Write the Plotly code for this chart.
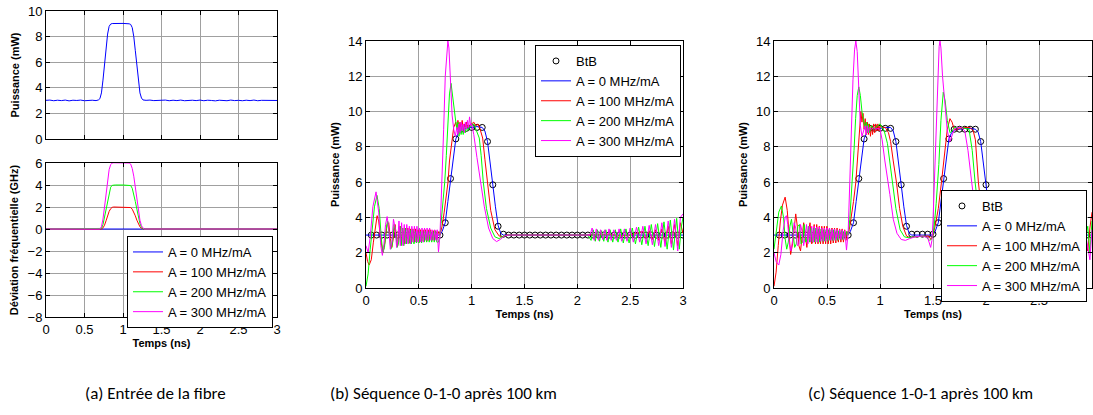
import plotly.graph_objects as go

W, H = 1093, 415

# ---------------- DATA ----------------
times_label = "Temps (ns)"
legend_names = ["A = 0 MHz/mA", "A = 100 MHz/mA", "A = 200 MHz/mA", "A = 300 MHz/mA"]
x_ticks = [0, 0.5, 1, 1.5, 2, 2.5, 3]
x_tick_text = ["0", "0.5", "1", "1.5", "2", "2.5", "3"]

# (a) input power
a_power = [(0.00, 3.02), (0.05, 3.04), (0.10, 2.99), (0.15, 3.03), (0.20, 3.00), (0.25, 3.04), (0.30, 2.98),
           (0.35, 3.03), (0.40, 3.01), (0.45, 3.04), (0.50, 2.99), (0.55, 3.02), (0.60, 3.03), (0.65, 3.00),
           (0.68, 3.05), (0.70, 3.15), (0.72, 3.6), (0.74, 4.6), (0.76, 5.9), (0.78, 7.2), (0.80, 8.2),
           (0.82, 8.8), (0.84, 8.98), (0.86, 9.02), (0.90, 9.03), (1.00, 9.03), (1.08, 9.0), (1.10, 8.95),
           (1.12, 8.7), (1.14, 8.0), (1.16, 6.9), (1.18, 5.6), (1.20, 4.4), (1.22, 3.6), (1.24, 3.2),
           (1.26, 3.05), (1.30, 3.02), (1.35, 3.04), (1.40, 3.00), (1.45, 3.03), (1.50, 3.01), (1.55, 3.04),
           (1.60, 2.99), (1.65, 3.03), (1.70, 3.00), (1.75, 3.04), (1.80, 2.99), (1.85, 3.02), (1.90, 3.03),
           (1.95, 3.00), (2.00, 3.04), (2.05, 2.99), (2.10, 3.03), (2.15, 3.01), (2.20, 2.98), (2.25, 3.03),
           (2.30, 3.01), (2.35, 2.99), (2.40, 3.04), (2.45, 3.00), (2.50, 3.02), (2.55, 2.99), (2.60, 3.03),
           (2.65, 3.00), (2.70, 3.04), (2.75, 2.99), (2.80, 3.02), (2.85, 3.03), (2.90, 3.00), (2.95, 3.03),
           (3.00, 3.01)]

# (a) frequency deviation (GHz)
a_chirp_t = [0, 0.70, 0.72, 0.74, 0.76, 0.78, 0.80, 0.82, 0.84, 0.86, 0.88, 0.90, 1.00, 1.08, 1.10,
             1.12, 1.14, 1.16, 1.18, 1.20, 1.22, 1.24, 1.26, 1.28, 3.0]
a_chirp_0 = [0] * 25
a_chirp_100 = [0, 0, 0, 0.1, 0.35, 0.75, 1.2, 1.6, 1.85, 1.97, 2.0, 2.0, 2.0, 2.0, 1.95,
               1.8, 1.55, 1.2, 0.8, 0.45, 0.2, 0.05, 0, 0, 0]
a_chirp_200 = [0, 0, 0.05, 0.4, 1.1, 1.9, 2.7, 3.4, 3.8, 3.97, 4.0, 4.0, 4.0, 4.0, 3.95,
               3.7, 3.2, 2.5, 1.8, 1.1, 0.5, 0.15, 0.02, 0, 0]
a_chirp_300 = [0, 0, 0.2, 0.9, 2.0, 3.3, 4.4, 5.4, 5.85, 6.0, 6.02, 6.02, 6.02, 6.0, 5.9,
               5.5, 4.8, 3.8, 2.6, 1.6, 0.8, 0.3, 0.08, 0.0, 0]

# BtB samples (0.05 ns grid)
btb_t = [0.05, 0.10, 0.15, 0.20, 0.25, 0.30, 0.35, 0.40, 0.45, 0.50, 0.55, 0.60, 0.65, 0.70, 0.75,
         0.80, 0.85, 0.90, 0.95, 1.00, 1.05, 1.10, 1.15, 1.20, 1.25, 1.30, 1.35, 1.40, 1.45, 1.50,
         1.55, 1.60, 1.65, 1.70, 1.75, 1.80, 1.85, 1.90, 1.95, 2.00, 2.05, 2.10, 2.15, 2.20, 2.25,
         2.30, 2.35, 2.40, 2.45, 2.50, 2.55, 2.60, 2.65, 2.70, 2.75, 2.80, 2.85, 2.90, 2.95, 3.00]
b_btb = [3.0] * 14 + [3.7, 6.2, 8.45, 9.0, 9.05, 9.1, 9.1, 9.1, 8.3, 5.85, 3.5, 3.05] + [3.0] * 34
c_btb = ([3.0] * 14 + [3.7, 6.2, 8.45, 9.05, 9.05, 9.05, 9.05, 9.05, 8.3, 5.85, 3.5]
         + [3.05] * 5 + [3.7, 6.2, 8.45, 9.0, 9.0, 9.0, 9.0, 9.0, 8.3, 5.85, 3.5] + [3.0] * 19)

# (b) sequence 0-1-0
b_A0 = [(0, 3.0), (0.70, 3.0), (0.72, 3.2), (0.75, 3.7), (0.775, 4.9), (0.80, 6.2), (0.825, 7.5),
        (0.85, 8.45), (0.875, 8.8), (0.90, 8.95), (0.95, 9.05), (1.0, 9.1), (1.05, 9.15), (1.1, 9.1),
        (1.125, 8.9), (1.15, 8.3), (1.175, 7.2), (1.2, 5.85), (1.225, 4.6), (1.25, 3.55), (1.275, 3.1),
        (1.3, 3.0), (3.0, 3.0)]
b_A100 = [(0.000, 2.0), (0.015, 1.5), (0.030, 1.3), (0.050, 1.6), (0.070, 2.6), (0.090, 3.6), (0.105, 4.1),
          (0.120, 3.8), (0.140, 2.7), (0.160, 2.0), (0.180, 2.6), (0.200, 3.6), (0.215, 3.7), (0.230, 2.8),
          (0.245, 2.3), (0.260, 2.9), (0.275, 3.6), (0.290, 2.8), (0.300, 2.4), (0.312, 3.2), (0.324, 3.5),
          (0.336, 2.5), (0.348, 3.4), (0.360, 2.5), (0.372, 3.4), (0.384, 2.55), (0.396, 3.4), (0.408, 2.55),
          (0.420, 3.35), (0.432, 2.6), (0.444, 3.35), (0.456, 2.6), (0.468, 3.35), (0.480, 2.6), (0.492, 3.3),
          (0.504, 2.6), (0.516, 3.3), (0.528, 2.65), (0.540, 3.3), (0.552, 2.65), (0.564, 3.3), (0.576, 2.65),
          (0.588, 3.3), (0.600, 2.7), (0.612, 3.3), (0.624, 2.7), (0.636, 3.25), (0.648, 2.7), (0.660, 3.25),
          (0.672, 2.75), (0.684, 3.2), (0.700, 3.0), (0.720, 3.5), (0.740, 4.3), (0.760, 5.2), (0.776, 6.0),
          (0.790, 7.2), (0.810, 8.3), (0.830, 9.1), (0.850, 9.4), (0.860, 9.0), (0.870, 9.5), (0.880, 9.0),
          (0.890, 9.4), (0.900, 9.0), (0.910, 9.5), (0.920, 9.0), (0.930, 9.3), (0.940, 9.1), (0.950, 9.4),
          (0.960, 9.1), (0.980, 9.2), (1.000, 9.3), (1.020, 9.4), (1.040, 9.2), (1.060, 9.3), (1.080, 9.0),
          (1.104, 8.5), (1.125, 7.3), (1.148, 6.0), (1.180, 4.4), (1.220, 3.3), (1.260, 2.95), (1.290, 2.9),
          (1.330, 3.0), (1.700, 3.0), (2.100, 3.0), (2.300, 3.05), (2.400, 2.95), (2.500, 3.0), (2.620, 3.2),
          (2.650, 2.8), (2.680, 3.25), (2.710, 2.75), (2.740, 3.3), (2.770, 2.7), (2.800, 3.35), (2.830, 2.6),
          (2.860, 3.5), (2.890, 2.5), (2.920, 3.6), (2.950, 2.4), (2.975, 3.7), (3.000, 3.1)]
b_A200 = [(0.000, 0.1), (0.020, 0.8), (0.040, 2.2), (0.060, 3.6), (0.080, 4.6), (0.104, 5.25), (0.125, 4.5),
          (0.145, 2.8), (0.160, 2.0), (0.175, 2.3), (0.190, 3.3), (0.205, 3.8), (0.220, 3.0), (0.235, 2.2),
          (0.250, 2.5), (0.265, 3.6), (0.280, 3.3), (0.295, 2.3), (0.310, 2.6), (0.322, 3.5), (0.334, 2.4),
          (0.346, 3.4), (0.358, 2.4), (0.370, 3.4), (0.382, 2.5), (0.394, 3.3), (0.406, 2.5), (0.418, 3.3),
          (0.430, 2.5), (0.442, 3.3), (0.454, 2.5), (0.466, 3.2), (0.478, 2.55), (0.490, 3.2), (0.502, 2.55),
          (0.514, 3.2), (0.526, 2.55), (0.538, 3.2), (0.550, 2.6), (0.562, 3.2), (0.574, 2.6), (0.586, 3.2),
          (0.598, 2.6), (0.610, 3.2), (0.622, 2.6), (0.634, 3.2), (0.646, 2.6), (0.658, 3.2), (0.670, 2.6),
          (0.685, 2.6), (0.700, 3.0), (0.715, 3.9), (0.730, 5.2), (0.745, 6.0), (0.760, 7.5), (0.775, 9.5),
          (0.790, 11.0), (0.805, 11.6), (0.820, 10.8), (0.835, 9.9), (0.850, 9.4), (0.860, 9.0), (0.870, 9.4),
          (0.880, 8.6), (0.890, 9.1), (0.900, 8.7), (0.910, 9.2), (0.920, 8.7), (0.930, 9.1), (0.940, 8.8),
          (0.950, 9.2), (0.960, 8.9), (0.980, 9.1), (1.000, 9.2), (1.020, 9.3), (1.040, 9.0), (1.072, 8.5),
          (1.090, 7.5), (1.110, 6.0), (1.140, 4.5), (1.180, 3.4), (1.220, 2.9), (1.260, 2.8), (1.300, 2.95),
          (1.350, 3.0), (2.100, 3.0), (2.130, 2.7), (2.150, 3.3), (2.170, 2.65), (2.190, 3.3), (2.210, 2.65),
          (2.230, 3.25), (2.250, 2.65), (2.270, 3.3), (2.290, 2.6), (2.310, 3.3), (2.335, 2.6), (2.360, 3.3),
          (2.385, 2.6), (2.410, 3.35), (2.435, 2.55), (2.460, 3.35), (2.490, 2.55), (2.520, 3.4), (2.550, 2.5),
          (2.580, 3.45), (2.610, 2.45), (2.640, 3.5), (2.670, 2.4), (2.700, 3.6), (2.730, 2.35), (2.760, 3.65),
          (2.790, 2.3), (2.820, 3.75), (2.850, 2.2), (2.880, 3.85), (2.910, 2.15), (2.940, 3.95), (2.965, 2.2),
          (2.985, 3.5), (3.000, 4.0)]
b_A300 = [(0.000, 2.4), (0.020, 2.0), (0.040, 2.9), (0.065, 4.6), (0.095, 5.45), (0.120, 4.3), (0.140, 2.4),
          (0.155, 1.85), (0.170, 2.5), (0.185, 3.6), (0.200, 4.05), (0.215, 3.4), (0.230, 2.2), (0.245, 2.6),
          (0.260, 3.9), (0.275, 3.4), (0.290, 2.3), (0.300, 2.7), (0.312, 3.8), (0.325, 2.4), (0.337, 3.7),
          (0.350, 2.4), (0.362, 3.6), (0.374, 2.5), (0.386, 3.6), (0.398, 2.5), (0.410, 3.5), (0.422, 2.5),
          (0.434, 3.5), (0.446, 2.6), (0.458, 3.5), (0.470, 2.6), (0.482, 3.5), (0.494, 2.6), (0.506, 3.4),
          (0.518, 2.6), (0.530, 3.4), (0.542, 2.6), (0.554, 3.4), (0.566, 2.7), (0.578, 3.4), (0.590, 2.7),
          (0.602, 3.4), (0.614, 2.7), (0.626, 3.3), (0.638, 2.7), (0.650, 3.3), (0.662, 2.7), (0.674, 3.3),
          (0.686, 2.05), (0.700, 3.0), (0.710, 4.5), (0.720, 6.0), (0.735, 9.0), (0.750, 12.0), (0.765, 13.6),
          (0.775, 14.0), (0.785, 13.6), (0.800, 11.5), (0.815, 9.8), (0.830, 9.0), (0.845, 8.6), (0.860, 9.1),
          (0.870, 8.7), (0.880, 9.3), (0.890, 8.8), (0.900, 9.4), (0.910, 8.9), (0.920, 9.3), (0.930, 8.8),
          (0.940, 9.4), (0.950, 9.0), (0.960, 9.5), (0.970, 9.1), (0.980, 9.7), (0.990, 9.2), (1.000, 9.3),
          (1.020, 8.7), (1.050, 7.4), (1.085, 6.0), (1.120, 4.6), (1.160, 3.4), (1.200, 2.8), (1.236, 2.63),
          (1.270, 2.75), (1.310, 2.95), (1.350, 3.0), (1.600, 3.0), (1.900, 3.02), (2.120, 3.0), (2.140, 3.4),
          (2.160, 2.7), (2.180, 3.35), (2.200, 2.7), (2.220, 3.3), (2.240, 2.75), (2.260, 3.3), (2.280, 2.7),
          (2.300, 3.35), (2.320, 2.7), (2.345, 3.3), (2.370, 2.7), (2.395, 3.35), (2.420, 2.65), (2.445, 3.35),
          (2.470, 2.65), (2.500, 3.4), (2.530, 2.6), (2.560, 3.45), (2.590, 2.6), (2.620, 3.5), (2.650, 2.5),
          (2.680, 3.55), (2.710, 2.45), (2.740, 3.6), (2.770, 2.4), (2.800, 3.7), (2.830, 2.35), (2.860, 3.8),
          (2.890, 2.3), (2.920, 3.9), (2.950, 2.1), (2.975, 4.0), (3.000, 4.2)]

# (c) sequence 1-0-1
c_A0 = [(0, 3.0), (0.70, 3.0), (0.72, 3.2), (0.75, 3.7), (0.775, 4.9), (0.80, 6.2), (0.825, 7.5),
        (0.85, 8.45), (0.875, 8.8), (0.90, 8.95), (1.0, 9.05), (1.05, 9.1), (1.1, 9.1), (1.125, 8.9),
        (1.15, 8.3), (1.175, 7.2), (1.2, 5.85), (1.225, 4.6), (1.25, 3.55), (1.275, 3.1), (1.3, 3.0),
        (1.5, 3.0), (1.52, 3.2), (1.55, 3.7), (1.575, 4.9), (1.6, 6.2), (1.625, 7.5), (1.65, 8.45),
        (1.675, 8.8), (1.7, 8.95), (1.8, 9.05), (1.85, 9.05), (1.9, 9.0), (1.925, 8.85), (1.95, 8.3),
        (1.975, 7.2), (2.0, 5.85), (2.025, 4.6), (2.05, 3.55), (2.075, 3.1), (2.1, 3.0), (3.0, 3.0)]
c_A100 = [(0.000, 0.1), (0.020, 0.9), (0.040, 2.4), (0.060, 3.8), (0.080, 4.7), (0.105, 5.15), (0.125, 4.4),
          (0.140, 2.9), (0.157, 1.9), (0.175, 2.5), (0.190, 3.6), (0.205, 4.2), (0.220, 3.5), (0.235, 2.4),
          (0.250, 2.1), (0.265, 3.0), (0.280, 3.7), (0.295, 3.0), (0.310, 2.3), (0.325, 3.2), (0.340, 3.7),
          (0.355, 2.5), (0.367, 2.6), (0.379, 3.6), (0.391, 2.5), (0.403, 3.6), (0.415, 2.5), (0.427, 3.5),
          (0.439, 2.5), (0.451, 3.5), (0.463, 2.5), (0.475, 3.5), (0.487, 2.5), (0.499, 3.5), (0.511, 2.5),
          (0.523, 3.4), (0.535, 2.5), (0.547, 3.4), (0.559, 2.55), (0.571, 3.4), (0.583, 2.55), (0.595, 3.4),
          (0.607, 2.6), (0.619, 3.35), (0.631, 2.6), (0.643, 3.35), (0.655, 2.6), (0.667, 3.3), (0.679, 2.7),
          (0.690, 3.2), (0.700, 3.0), (0.710, 3.3), (0.730, 4.0), (0.750, 4.9), (0.772, 6.0), (0.790, 7.5),
          (0.800, 8.5), (0.810, 9.3), (0.820, 10.0), (0.830, 9.4), (0.840, 9.9), (0.850, 9.0), (0.860, 9.6),
          (0.870, 8.7), (0.880, 9.4), (0.890, 8.7), (0.900, 9.3), (0.910, 8.6), (0.920, 9.2), (0.930, 8.7),
          (0.940, 9.3), (0.950, 8.8), (0.960, 9.3), (0.970, 8.9), (0.980, 9.3), (0.990, 8.9), (1.000, 9.2),
          (1.020, 9.1), (1.050, 9.1), (1.080, 8.8), (1.100, 8.3), (1.125, 7.2), (1.155, 6.0), (1.185, 4.5),
          (1.215, 3.5), (1.250, 2.95), (1.280, 2.85), (1.320, 2.9), (1.400, 2.95), (1.460, 2.95), (1.480, 2.75),
          (1.500, 3.0), (1.520, 3.5), (1.550, 4.5), (1.580, 6.0), (1.610, 7.8), (1.635, 9.0), (1.660, 9.6),
          (1.680, 9.4), (1.700, 9.0), (1.720, 8.95), (1.750, 9.05), (1.800, 9.1), (1.850, 9.1), (1.880, 8.9),
          (1.900, 8.4), (1.928, 6.0), (1.960, 4.3), (2.000, 3.2), (2.050, 2.9), (2.100, 3.0), (2.800, 3.0),
          (2.900, 2.8), (2.930, 3.3), (2.960, 2.1), (2.980, 3.4), (3.000, 4.3)]
c_A200 = [(0.000, 2.2), (0.020, 3.2), (0.045, 4.3), (0.070, 4.65), (0.090, 4.0), (0.105, 2.8), (0.120, 2.2),
          (0.135, 2.6), (0.150, 3.5), (0.165, 3.9), (0.180, 3.2), (0.195, 2.3), (0.210, 2.5), (0.225, 3.5),
          (0.240, 3.6), (0.255, 2.5), (0.270, 2.6), (0.285, 3.6), (0.300, 2.6), (0.312, 2.8), (0.324, 3.5),
          (0.336, 2.6), (0.348, 3.4), (0.360, 2.6), (0.372, 3.4), (0.384, 2.6), (0.396, 3.4), (0.408, 2.6),
          (0.420, 3.35), (0.432, 2.6), (0.444, 3.35), (0.456, 2.65), (0.468, 3.3), (0.480, 2.65), (0.492, 3.3),
          (0.504, 2.65), (0.516, 3.3), (0.528, 2.7), (0.540, 3.3), (0.552, 2.7), (0.564, 3.3), (0.576, 2.7),
          (0.588, 3.25), (0.600, 2.7), (0.612, 3.25), (0.624, 2.75), (0.636, 3.25), (0.648, 2.75), (0.660, 3.2),
          (0.672, 2.75), (0.684, 3.2), (0.700, 3.0), (0.715, 3.9), (0.730, 5.2), (0.740, 6.0), (0.755, 7.8),
          (0.770, 9.6), (0.785, 10.9), (0.800, 11.4), (0.815, 10.9), (0.830, 10.0), (0.845, 9.5), (0.860, 9.0),
          (0.870, 9.4), (0.880, 8.8), (0.890, 9.3), (0.900, 8.8), (0.920, 9.2), (0.940, 9.0), (0.960, 9.1),
          (0.980, 9.2), (1.000, 9.3), (1.020, 9.1), (1.040, 8.9), (1.070, 8.2), (1.095, 7.1), (1.120, 6.0),
          (1.150, 4.5), (1.190, 3.3), (1.230, 2.9), (1.270, 2.85), (1.320, 2.9), (1.420, 2.95), (1.470, 2.7),
          (1.490, 2.8), (1.510, 3.4), (1.530, 4.8), (1.555, 7.0), (1.575, 9.5), (1.597, 11.1), (1.615, 10.6),
          (1.635, 9.5), (1.660, 8.8), (1.680, 8.9), (1.700, 9.1), (1.750, 9.1), (1.800, 9.05), (1.840, 9.0),
          (1.870, 7.8), (1.897, 6.0), (1.930, 4.3), (1.970, 3.2), (2.000, 2.9), (2.100, 3.0), (2.800, 3.0),
          (2.900, 3.2), (2.930, 2.6), (2.960, 3.5), (2.980, 2.0), (3.000, 3.8)]
c_A300 = [(0.000, 2.0), (0.020, 1.5), (0.045, 1.3), (0.065, 1.9), (0.085, 3.2), (0.105, 4.0), (0.117, 4.1),
          (0.130, 3.6), (0.145, 2.5), (0.160, 2.1), (0.175, 2.7), (0.190, 3.7), (0.205, 3.4), (0.220, 2.4),
          (0.235, 2.5), (0.250, 3.6), (0.265, 3.2), (0.280, 2.4), (0.295, 3.0), (0.307, 3.6), (0.320, 2.5),
          (0.332, 3.5), (0.344, 2.6), (0.356, 3.5), (0.368, 2.6), (0.380, 3.5), (0.392, 2.6), (0.404, 3.45),
          (0.416, 2.6), (0.428, 3.45), (0.440, 2.65), (0.452, 3.4), (0.464, 2.65), (0.476, 3.4), (0.488, 2.65),
          (0.500, 3.4), (0.512, 2.7), (0.524, 3.4), (0.536, 2.7), (0.548, 3.35), (0.560, 2.7), (0.572, 3.35),
          (0.584, 2.7), (0.596, 3.3), (0.608, 2.75), (0.620, 3.3), (0.632, 2.75), (0.644, 3.3), (0.656, 2.75),
          (0.668, 3.25), (0.684, 2.15), (0.700, 3.2), (0.715, 6.0), (0.730, 9.0), (0.745, 11.8), (0.760, 13.5),
          (0.772, 14.0), (0.785, 13.4), (0.800, 11.0), (0.815, 9.2), (0.830, 8.6), (0.845, 8.9), (0.860, 9.2),
          (0.870, 8.7), (0.880, 9.2), (0.890, 8.8), (0.900, 9.1), (0.920, 9.0), (0.940, 9.1), (0.960, 9.0),
          (0.980, 9.05), (1.000, 9.0), (1.020, 8.4), (1.046, 7.2), (1.070, 6.3), (1.093, 5.3), (1.125, 3.9),
          (1.160, 3.1), (1.200, 2.75), (1.240, 2.7), (1.280, 2.8), (1.330, 2.9), (1.400, 2.95), (1.450, 2.85),
          (1.478, 2.3), (1.490, 2.7), (1.500, 3.8), (1.515, 6.5), (1.530, 9.5), (1.545, 12.2), (1.558, 13.7),
          (1.566, 14.0), (1.575, 13.6), (1.590, 12.0), (1.613, 10.2), (1.635, 8.9), (1.660, 8.3), (1.680, 8.6),
          (1.700, 9.0), (1.730, 9.1), (1.770, 9.1), (1.800, 8.9), (1.830, 7.8), (1.865, 6.0), (1.900, 4.3),
          (1.940, 3.1), (1.980, 2.7), (2.020, 2.8), (2.100, 3.0), (2.800, 3.0), (2.900, 2.7), (2.930, 3.4),
          (2.960, 2.3), (2.980, 1.6), (3.000, 3.3)]

captions = ["(a) Entrée de la fibre", "(b) Séquence 0-1-0 après 100 km", "(c) Séquence 1-0-1 après 100 km"]

# ---------------- STYLE ----------------
COLORS = ["#0000ff", "#ff0000", "#00ff00", "#ff00ff"]
AX_FONT = "Liberation Sans, Arial, sans-serif"


def xd(l, r):
    return [l / W, r / W]


def yd(t, b):
    return [1 - b / H, 1 - t / H]


def unzip(pairs):
    return [p[0] for p in pairs], [p[1] for p in pairs]


fig = go.Figure()

# (a) top: power
t, p = unzip(a_power)
fig.add_trace(go.Scatter(x=t, y=p, mode="lines", line=dict(color=COLORS[0], width=1),
                         xaxis="x", yaxis="y", showlegend=False))
# (a) bottom: chirp
for i, vals in enumerate([a_chirp_0, a_chirp_100, a_chirp_200, a_chirp_300]):
    fig.add_trace(go.Scatter(x=a_chirp_t, y=vals, mode="lines", name=legend_names[i],
                             line=dict(color=COLORS[i], width=1), xaxis="x2", yaxis="y2",
                             legend="legend"))

# (b) and (c)
for ax, lg, btb, series in [("3", "legend2", b_btb, [b_A0, b_A100, b_A200, b_A300]),
                            ("4", "legend3", c_btb, [c_A0, c_A100, c_A200, c_A300])]:
    fig.add_trace(go.Scatter(x=btb_t, y=btb, mode="markers", name="BtB",
                             marker=dict(symbol="circle-open", size=6, color="black", line=dict(width=1)),
                             xaxis="x" + ax, yaxis="y" + ax, legend=lg, legendrank=1))
    for i, s in enumerate(series):
        t, p = unzip(s)
        fig.add_trace(go.Scatter(x=t, y=p, mode="lines", name=legend_names[i],
                                 line=dict(color=COLORS[i], width=1), xaxis="x" + ax, yaxis="y" + ax,
                                 legend=lg, legendrank=2 + i))

common = dict(showline=True, linecolor="black", linewidth=1, mirror="allticks", ticks="inside",
              ticklen=4, tickcolor="black", showgrid=True, gridcolor="#a0a0a0", gridwidth=1,
              zeroline=False, automargin=False,
              tickfont=dict(family=AX_FONT, size=13, color="black"))
title_font = dict(family=AX_FONT, size=11, color="black")

layout = dict(
    width=W, height=H, margin=dict(l=0, r=0, t=0, b=0),
    paper_bgcolor="white", plot_bgcolor="white", showlegend=True,
    xaxis=dict(domain=xd(46, 277), range=[0, 3], tickvals=x_ticks, showticklabels=False,
               anchor="y", **common),
    yaxis=dict(domain=yd(11, 139), range=[0, 10], tickvals=[0, 2, 4, 6, 8, 10], anchor="x",
               title=dict(text="<b>Puissance (mW)</b>", font=title_font, standoff=6), **common),
    xaxis2=dict(domain=xd(46, 277), range=[0, 3], tickvals=x_ticks, ticktext=x_tick_text,
                anchor="y2", title=dict(text="<b>" + times_label + "</b>", font=title_font, standoff=2), **common),
    yaxis2=dict(domain=yd(163, 317), range=[-8, 6], tickvals=[-8, -6, -4, -2, 0, 2, 4, 6], anchor="x2",
                title=dict(text="<b>Déviation fréquentielle (GHz)</b>", font=title_font, standoff=6), **common),
    xaxis3=dict(domain=xd(366, 683), range=[0, 3], tickvals=x_ticks, ticktext=x_tick_text,
                anchor="y3", title=dict(text="<b>" + times_label + "</b>", font=title_font, standoff=2), **common),
    yaxis3=dict(domain=yd(41, 288), range=[0, 14], tickvals=[0, 2, 4, 6, 8, 10, 12, 14], anchor="x3",
                title=dict(text="<b>Puissance (mW)</b>", font=title_font, standoff=6), **common),
    xaxis4=dict(domain=xd(774, 1092), range=[0, 3], tickvals=x_ticks, ticktext=x_tick_text,
                anchor="y4", title=dict(text="<b>" + times_label + "</b>", font=title_font, standoff=2), **common),
    yaxis4=dict(domain=yd(41, 288), range=[0, 14], tickvals=[0, 2, 4, 6, 8, 10, 12, 14], anchor="x4",
                title=dict(text="<b>Puissance (mW)</b>", font=title_font, standoff=6), **common),
)
leg_common = dict(bgcolor="white", bordercolor="black", borderwidth=1,
                  font=dict(family=AX_FONT, size=13, color="black"),
                  xanchor="right", yanchor="top", tracegroupgap=0, itemwidth=30)
layout["legend"] = dict(x=273 / W, y=1 - 236 / H, **leg_common)
layout["legend2"] = dict(x=681 / W, y=1 - 45 / H, **leg_common)
layout["legend3"] = dict(x=1087 / W, y=1 - 190 / H, **leg_common)

cap_font = dict(family="Liberation Sans Narrow, Carlito, Noto Sans, sans-serif", size=17, color="black")
cap_x = [155, 443, 920]
layout["annotations"] = [
    dict(text=captions[k], x=cap_x[k] / W, y=1 - 393 / H, xref="paper", yref="paper",
         xanchor="center", yanchor="middle", showarrow=False, font=cap_font)
    for k in range(3)
]
fig.update_layout(**layout)

fig.write_html("out.html", config={"displayModeBar": False})
